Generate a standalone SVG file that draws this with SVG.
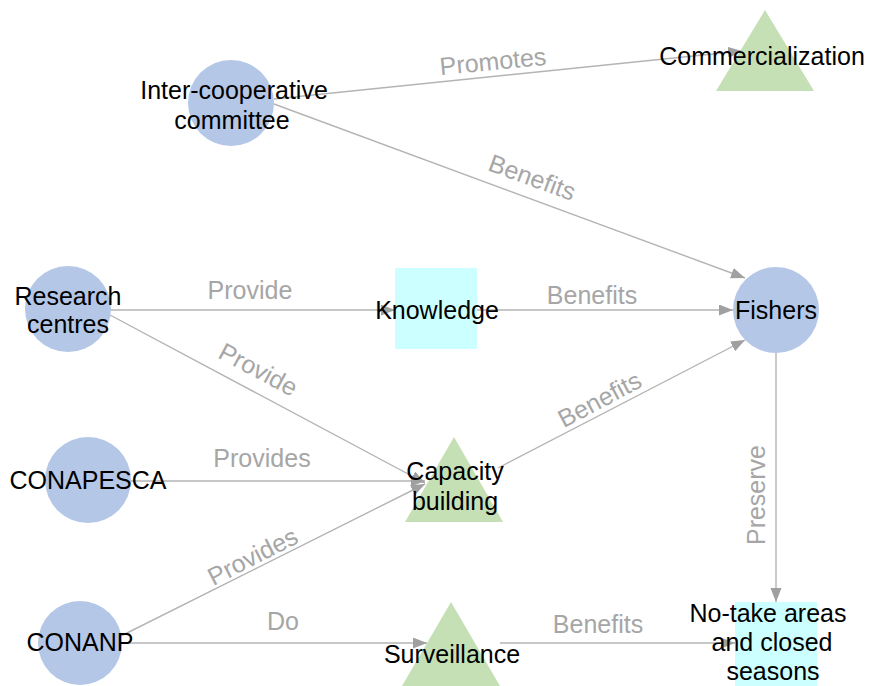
<svg xmlns="http://www.w3.org/2000/svg" width="869" height="686" viewBox="0 0 869 686">
<style>
.bg{fill:#ffffff}
.circ{fill:#b4c7e7}
.tri{fill:#c5e0b4}
.sq{fill:#ccffff}
.lbl{font-family:"Liberation Sans",Arial,sans-serif;font-size:25px;fill:#000000;text-anchor:middle}
.elbl{font-family:"Liberation Sans",Arial,sans-serif;font-size:25px;fill:#a6a6a6;text-anchor:middle}
.edge{stroke:#b4b4b4;stroke-width:1.4;fill:none;marker-end:url(#arr)}
</style>
<defs>
<marker id="arr" markerUnits="userSpaceOnUse" markerWidth="15" markerHeight="12" refX="14" refY="5.5" orient="auto">
<path d="M0,0 L14,5.5 L0,11 Z" fill="#a0a0a0"/>
</marker>
</defs>
<rect class="bg" x="0" y="0" width="869" height="686"/>
<g id="connectors">
<line class="edge" x1="274" y1="99" x2="742" y2="51"/>
<line class="edge" x1="274" y1="104" x2="745" y2="278"/>
<line class="edge" x1="110" y1="310" x2="395" y2="310"/>
<line class="edge" x1="477" y1="310" x2="733" y2="310"/>
<line class="edge" x1="110" y1="315" x2="425" y2="483"/>
<line class="edge" x1="131" y1="481" x2="425" y2="481"/>
<line class="edge" x1="119" y1="637" x2="425" y2="484"/>
<line class="edge" x1="498" y1="468" x2="745" y2="340"/>
<line class="edge" x1="776" y1="353" x2="776" y2="602"/>
<line class="edge" x1="122" y1="643" x2="427" y2="643"/>
<line class="edge" x1="500" y1="643" x2="735" y2="643"/>
<text class="elbl" x="493" y="70" transform="rotate(-5.7 493 62)">Promotes</text>
<text class="elbl" x="532" y="186" transform="rotate(20 532 178)">Benefits</text>
<text class="elbl" x="250" y="299">Provide</text>
<text class="elbl" x="592" y="304">Benefits</text>
<text class="elbl" x="258" y="378" transform="rotate(28 258 370)">Provide</text>
<text class="elbl" x="262" y="467">Provides</text>
<text class="elbl" x="253" y="565" transform="rotate(-27 253 557)">Provides</text>
<text class="elbl" x="600" y="408" transform="rotate(-28 600 400)">Benefits</text>
<text class="elbl" x="757" y="503" transform="rotate(-90 757 495)">Preserve</text>
<text class="elbl" x="283" y="630">Do</text>
<text class="elbl" x="598" y="633">Benefits</text>
</g>
<g id="intercoop">
<circle class="circ" cx="231" cy="103" r="43"/>
<text class="lbl" x="234" y="99">Inter-cooperative</text>
<text class="lbl" x="232" y="129">committee</text>
</g>
<g id="commercialization">
<polygon class="tri" points="765,10 716,91 814,91"/>
<text class="lbl" x="762" y="65">Commercialization</text>
</g>
<g id="research">
<circle class="circ" cx="68" cy="309" r="43"/>
<text class="lbl" x="68" y="305">Research</text>
<text class="lbl" x="68" y="333">centres</text>
</g>
<g id="knowledge">
<rect class="sq" x="395" y="268" width="82" height="81"/>
<text class="lbl" x="437" y="319">Knowledge</text>
</g>
<g id="fishers">
<circle class="circ" cx="776" cy="310" r="43"/>
<text class="lbl" x="776" y="319">Fishers</text>
</g>
<g id="conapesca">
<circle class="circ" cx="88" cy="480" r="43"/>
<text class="lbl" x="88" y="489">CONAPESCA</text>
</g>
<g id="capacity">
<polygon class="tri" points="454,437 405,522 503,522"/>
<text class="lbl" x="455" y="480">Capacity</text>
<text class="lbl" x="455" y="510">building</text>
</g>
<g id="conanp">
<circle class="circ" cx="80" cy="643" r="42"/>
<text class="lbl" x="80" y="651">CONANP</text>
</g>
<g id="surveillance">
<polygon class="tri" points="451,602 402,686 500,686"/>
<text class="lbl" x="452" y="663">Surveillance</text>
</g>
<g id="notake">
<rect class="sq" x="735" y="602" width="82" height="84"/>
<text class="lbl" x="768" y="622">No-take areas</text>
<text class="lbl" x="772" y="651">and closed</text>
<text class="lbl" x="773" y="680">seasons</text>
</g>
</svg>
